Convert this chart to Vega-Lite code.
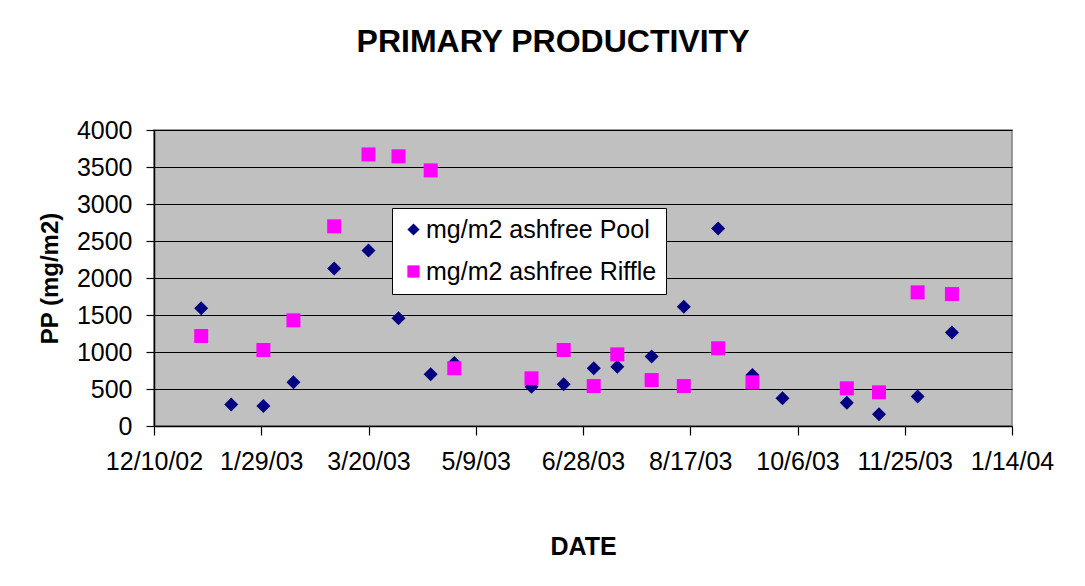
{
  "$schema": "https://vega.github.io/schema/vega-lite/v6.json",
  "autosize": "none",
  "width": 858,
  "height": 296,
  "padding": {"left": 154, "top": 130, "right": 73, "bottom": 160},
  "background": "#ffffff",
  "title": {
    "text": "PRIMARY PRODUCTIVITY",
    "font": "Liberation Sans",
    "fontSize": 32,
    "fontWeight": "bold",
    "color": "#000000",
    "anchor": "middle",
    "dx": -30,
    "baseline": "alphabetic",
    "offset": 34
  },
  "data": {
    "values": [
      {"date": "2003-01-01", "series": "mg/m2 ashfree Pool", "pp": 1590},
      {"date": "2003-01-15", "series": "mg/m2 ashfree Pool", "pp": 290},
      {"date": "2003-01-30", "series": "mg/m2 ashfree Pool", "pp": 270},
      {"date": "2003-02-13", "series": "mg/m2 ashfree Pool", "pp": 590},
      {"date": "2003-03-04", "series": "mg/m2 ashfree Pool", "pp": 2130},
      {"date": "2003-03-20", "series": "mg/m2 ashfree Pool", "pp": 2370},
      {"date": "2003-04-03", "series": "mg/m2 ashfree Pool", "pp": 1455},
      {"date": "2003-04-18", "series": "mg/m2 ashfree Pool", "pp": 700},
      {"date": "2003-04-29", "series": "mg/m2 ashfree Pool", "pp": 850},
      {"date": "2003-06-04", "series": "mg/m2 ashfree Pool", "pp": 530},
      {"date": "2003-06-19", "series": "mg/m2 ashfree Pool", "pp": 565},
      {"date": "2003-07-03", "series": "mg/m2 ashfree Pool", "pp": 780},
      {"date": "2003-07-14", "series": "mg/m2 ashfree Pool", "pp": 800},
      {"date": "2003-07-30", "series": "mg/m2 ashfree Pool", "pp": 940},
      {"date": "2003-08-14", "series": "mg/m2 ashfree Pool", "pp": 1610},
      {"date": "2003-08-30", "series": "mg/m2 ashfree Pool", "pp": 2670},
      {"date": "2003-09-15", "series": "mg/m2 ashfree Pool", "pp": 690},
      {"date": "2003-09-29", "series": "mg/m2 ashfree Pool", "pp": 375},
      {"date": "2003-10-29", "series": "mg/m2 ashfree Pool", "pp": 315},
      {"date": "2003-11-13", "series": "mg/m2 ashfree Pool", "pp": 160},
      {"date": "2003-12-01", "series": "mg/m2 ashfree Pool", "pp": 400},
      {"date": "2003-12-17", "series": "mg/m2 ashfree Pool", "pp": 1265},
      {"date": "2003-01-01", "series": "mg/m2 ashfree Riffle", "pp": 1216},
      {"date": "2003-01-30", "series": "mg/m2 ashfree Riffle", "pp": 1027},
      {"date": "2003-02-13", "series": "mg/m2 ashfree Riffle", "pp": 1428},
      {"date": "2003-03-04", "series": "mg/m2 ashfree Riffle", "pp": 2698},
      {"date": "2003-03-20", "series": "mg/m2 ashfree Riffle", "pp": 3670},
      {"date": "2003-04-03", "series": "mg/m2 ashfree Riffle", "pp": 3644},
      {"date": "2003-04-18", "series": "mg/m2 ashfree Riffle", "pp": 3454},
      {"date": "2003-04-29", "series": "mg/m2 ashfree Riffle", "pp": 780},
      {"date": "2003-06-04", "series": "mg/m2 ashfree Riffle", "pp": 644},
      {"date": "2003-06-19", "series": "mg/m2 ashfree Riffle", "pp": 1027},
      {"date": "2003-07-03", "series": "mg/m2 ashfree Riffle", "pp": 540},
      {"date": "2003-07-14", "series": "mg/m2 ashfree Riffle", "pp": 968},
      {"date": "2003-07-30", "series": "mg/m2 ashfree Riffle", "pp": 621},
      {"date": "2003-08-14", "series": "mg/m2 ashfree Riffle", "pp": 540},
      {"date": "2003-08-30", "series": "mg/m2 ashfree Riffle", "pp": 1050},
      {"date": "2003-09-15", "series": "mg/m2 ashfree Riffle", "pp": 590},
      {"date": "2003-10-29", "series": "mg/m2 ashfree Riffle", "pp": 509},
      {"date": "2003-11-13", "series": "mg/m2 ashfree Riffle", "pp": 455},
      {"date": "2003-12-01", "series": "mg/m2 ashfree Riffle", "pp": 1806},
      {"date": "2003-12-17", "series": "mg/m2 ashfree Riffle", "pp": 1783}
    ]
  },
  "mark": {"type": "point", "filled": true, "opacity": 1, "size": 196},
  "encoding": {
    "x": {
      "field": "date",
      "type": "temporal",
      "scale": {
        "type": "utc",
        "domain": [
          {"year": 2002, "month": 12, "date": 10, "utc": true},
          {"year": 2004, "month": 1, "date": 14, "utc": true}
        ]
      },
      "axis": {
        "title": "DATE",
        "values": [
          {"year": 2002, "month": 12, "date": 10, "utc": true},
          {"year": 2003, "month": 1, "date": 29, "utc": true},
          {"year": 2003, "month": 3, "date": 20, "utc": true},
          {"year": 2003, "month": 5, "date": 9, "utc": true},
          {"year": 2003, "month": 6, "date": 28, "utc": true},
          {"year": 2003, "month": 8, "date": 17, "utc": true},
          {"year": 2003, "month": 10, "date": 6, "utc": true},
          {"year": 2003, "month": 11, "date": 25, "utc": true},
          {"year": 2004, "month": 1, "date": 14, "utc": true}
        ],
        "labelExpr": "utcFormat(datum.value, '%-m/%-d/%y')",
        "grid": false,
        "tickSize": 9,
        "labelPadding": 14,
        "labelFlush": false,
        "labelOverlap": false,
        "titleY": 128,
        "titleBaseline": "alphabetic",
        "titleFontSize": 25
      }
    },
    "y": {
      "field": "pp",
      "type": "quantitative",
      "scale": {"domain": [0, 4000], "nice": false, "zero": true},
      "axis": {
        "title": "PP (mg/m2)",
        "values": [0, 500, 1000, 1500, 2000, 2500, 3000, 3500, 4000],
        "format": "d",
        "grid": true,
        "gridColor": "#000000",
        "gridOpacity": 1,
        "gridWidth": 1,
        "tickSize": 8,
        "labelPadding": 14,
        "labelFlush": false,
        "labelOverlap": false,
        "titleX": -97,
        "titleBaseline": "alphabetic",
        "titleFontSize": 24
      }
    },
    "color": {
      "field": "series",
      "type": "nominal",
      "scale": {"domain": ["mg/m2 ashfree Pool", "mg/m2 ashfree Riffle"], "range": ["#000080", "#FF00FF"]},
      "legend": {"title": null}
    },
    "shape": {
      "field": "series",
      "type": "nominal",
      "scale": {"domain": ["mg/m2 ashfree Pool", "mg/m2 ashfree Riffle"], "range": ["diamond", "square"]},
      "legend": {"title": null}
    }
  },
  "config": {
    "font": "Liberation Sans",
    "view": {"fill": "#C0C0C0", "stroke": "#808080", "strokeWidth": 1.5},
    "axis": {
      "labelFont": "Liberation Sans",
      "labelFontSize": 25,
      "labelColor": "#000000",
      "titleFont": "Liberation Sans",
      "titleFontWeight": "bold",
      "titleColor": "#000000",
      "domainColor": "#000000",
      "domainWidth": 1.5,
      "tickColor": "#000000",
      "tickWidth": 1.2
    },
    "legend": {
      "orient": "none",
      "legendX": 238,
      "legendY": 78,
      "direction": "vertical",
      "fillColor": "#ffffff",
      "strokeColor": "#000000",
      "strokeWidth": 1,
      "padding": 9,
      "labelFont": "Liberation Sans",
      "labelFontSize": 25,
      "labelLimit": 0,
      "labelColor": "#000000",
      "labelOffset": 0,
      "rowPadding": 16,
      "symbolSize": 150,
      "symbolStrokeWidth": 0,
      "symbolOpacity": 1
    }
  }
}
